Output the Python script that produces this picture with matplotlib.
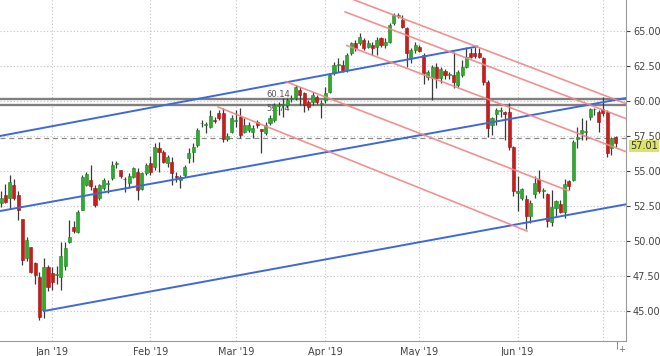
import matplotlib
matplotlib.use("Agg")
import matplotlib.pyplot as plt
import matplotlib.transforms as mtransforms
from matplotlib.ticker import FormatStrFormatter, MultipleLocator
import numpy as np
import pandas as pd

# daily candles, Dec 2018 - Jul 2019
opens = [52.7, 53.3, 53.05, 54.0, 53.3, 51.55, 48.8, 49.55, 48.4, 47.45,
         45.07, 48.17, 47.7, 47.55, 47.45, 48.2, 49.9, 51.0, 50.67, 52.2,
         54.0, 54.36, 53.76, 53.05, 53.8, 54.1, 54.5, 55.5, 55.07, 54.45,
         54.12, 54.6, 54.95, 53.69, 54.83, 55.6, 55.31, 56.62, 56.38, 55.55,
         55.67, 54.6, 54.36, 54.71, 55.9, 56.38, 56.86, 58.4, 58.3, 58.17,
         58.6, 59.12, 59.12, 57.26, 57.8, 58.6, 58.88, 57.8, 57.93, 57.8,
         58.52, 57.98, 57.69, 58.4, 58.64, 59.64, 59.7, 59.71, 60.17, 60.19,
         60.79, 60.55, 59.95, 59.95, 60.3, 59.8, 60.07, 60.67, 61.98, 62.55,
         62.57, 62.21, 63.4, 64.12, 64.12, 64.36, 63.88, 64.0, 63.88, 64.48,
         64.0, 64.24, 65.55, 66.1, 65.79, 65.19, 63.05, 63.64, 63.88, 63.3,
         61.74, 61.62, 62.45, 61.62, 62.15, 61.85, 61.86, 61.14, 61.86, 62.45,
         63.4, 63.4, 63.4, 63.05, 61.38, 58.29, 59.07, 59.3, 59.24, 59.24,
         56.74, 53.45, 53.1, 52.98, 51.79, 53.33, 54.4, 53.6, 53.33, 51.35,
         52.38, 52.62, 52.1, 54.29, 54.36, 57.26, 57.69, 57.8, 58.88, 59.4,
         59.24, 59.4, 59.24, 56.62, 57.43]
highs = [53.6, 54.1, 54.7, 54.4, 53.6, 51.6, 50.3, 49.6, 48.5, 47.8,
         48.8, 48.3, 48.17, 48.2, 49.95, 49.95, 51.5, 51.4, 52.2, 54.7,
         54.95, 55.4, 54.0, 54.1, 54.5, 54.36, 55.7, 55.7, 55.1, 54.6,
         54.83, 55.3, 55.2, 54.95, 55.55, 56.1, 56.98, 57.1, 56.5, 56.14,
         56.02, 54.95, 54.7, 55.43, 56.62, 56.98, 58.05, 58.64, 58.5, 59.36,
         58.88, 59.36, 59.48, 57.69, 59.0, 59.36, 59.5, 58.76, 58.52, 58.29,
         58.64, 58.0, 58.52, 59.0, 59.83, 59.95, 60.19, 60.19, 60.43, 61.14,
         61.0, 60.67, 60.07, 60.65, 60.4, 60.07, 61.02, 61.98, 62.81, 63.05,
         62.93, 63.4, 64.24, 64.36, 64.83, 64.48, 64.36, 64.24, 64.6, 64.6,
         64.48, 65.55, 66.26, 66.26, 66.14, 65.31, 63.76, 64.24, 64.0, 63.4,
         62.2, 62.57, 62.7, 62.4, 62.3, 62.1, 63.5, 62.2, 62.93, 63.88,
         63.76, 63.88, 63.76, 63.17, 61.5, 58.88, 59.48, 59.6, 59.3, 59.83,
         56.8, 54.64, 53.8, 53.3, 52.9, 54.64, 55.07, 53.76, 53.45, 53.64,
         52.95, 52.9, 54.45, 54.36, 57.2, 58.17, 58.76, 58.64, 59.48, 59.5,
         59.36, 60.3, 59.36, 57.45, 57.52]
lows = [52.4, 52.7, 52.3, 52.9, 51.5, 48.3, 48.6, 47.7, 46.9, 44.36,
        44.5, 46.4, 46.5, 46.9, 46.5, 47.9, 49.85, 50.55, 50.55, 52.2,
        53.9, 53.64, 52.45, 52.9, 53.65, 53.4, 54.36, 55.2, 54.5, 53.5,
        53.76, 54.5, 52.93, 53.64, 54.7, 54.7, 55.07, 54.95, 55.55, 55.31,
        54.0, 54.24, 53.76, 54.6, 55.55, 55.67, 56.74, 58.17, 57.7, 58.05,
        58.4, 58.64, 57.1, 57.17, 57.69, 58.17, 57.33, 57.69, 57.8, 57.33,
        58.05, 56.26, 57.57, 58.29, 58.52, 59.0, 58.88, 59.48, 59.95, 60.07,
        59.71, 59.24, 59.36, 59.71, 59.8, 58.8, 59.83, 60.55, 61.86, 62.09,
        62.1, 62.1, 63.3, 63.6, 64.0, 63.64, 63.76, 63.29, 63.3, 63.88,
        63.76, 64.12, 65.43, 65.9, 65.19, 62.45, 62.7, 63.4, 63.5, 61.2,
        61.5, 60.1, 60.9, 61.26, 61.6, 61.6, 60.9, 61.0, 61.74, 62.33,
        63.05, 63.05, 63.05, 61.14, 57.45, 57.57, 58.29, 58.88, 57.2, 56.5,
        53.2, 52.14, 52.9, 50.83, 51.3, 53.1, 53.45, 53.1, 51.0, 51.1,
        51.8, 52.0, 51.67, 53.64, 54.3, 56.62, 57.2, 57.2, 58.64, 59.0,
        57.8, 58.9, 56.02, 56.14, 56.74]
closes = [53.1, 52.8, 54.24, 53.05, 52.2, 48.64, 50.07, 47.8, 47.6, 44.6,
          48.17, 46.74, 47.1, 47.6, 48.9, 49.5, 50.3, 50.74, 52.1, 54.6,
          54.8, 53.9, 52.57, 54.0, 54.36, 54.15, 55.43, 55.6, 54.64, 54.4,
          54.64, 55.19, 53.64, 54.83, 55.43, 54.95, 56.74, 56.38, 55.67, 56.02,
          54.83, 54.55, 54.6, 55.31, 56.26, 56.74, 57.93, 58.45, 58.33, 58.93,
          58.55, 58.76, 57.26, 57.5, 58.76, 58.65, 57.57, 58.29, 58.29, 58.05,
          58.29, 57.86, 58.29, 58.76, 59.71, 59.66, 59.72, 60.07, 60.2, 61.02,
          60.43, 59.71, 59.6, 60.4, 59.9, 59.85, 60.55, 61.86, 62.57, 62.6,
          62.21, 63.28, 64.12, 63.76, 64.6, 63.76, 64.12, 63.76, 64.36, 64.0,
          64.24, 65.43, 66.14, 66.15, 65.31, 63.4, 63.64, 64.0, 63.6, 62.0,
          62.1, 62.45, 61.62, 62.25, 61.86, 61.9, 61.38, 62.1, 62.45, 63.17,
          63.17, 63.2, 63.17, 61.38, 58.05, 58.76, 59.36, 59.33, 59.07, 56.74,
          53.6, 53.55, 53.69, 51.79, 52.74, 54.17, 53.57, 53.6, 51.45, 52.4,
          52.84, 52.1, 54.05, 53.95, 57.1, 57.45, 57.93, 57.82, 59.4, 59.45,
          58.52, 59.17, 56.26, 57.33, 57.02]

dates = pd.bdate_range("2018-12-14", periods=len(closes))

# drawn studies: (candle index, price) end points
blue_lines = [[(-0.25, 52.14), (146.4, 60.21)],
              [(-0.25, 57.50), (111.5, 63.89)],
              [(10.0, 45.00), (146.4, 52.62)]]
red_lines = [[(82.0, 67.30), (146.4, 59.81)],
             [(80.6, 66.36), (146.4, 58.74)],
             [(81.0, 63.96), (146.4, 56.38)],
             [(66.7, 61.38), (132.8, 53.60)],
             [(50.8, 59.57), (123.2, 50.71)]]
levels = [60.14, 59.74]
last_dash = 57.38
last_price = 57.01

fig = plt.figure(figsize=(6.6, 3.56), dpi=100)
ax = fig.add_axes([0, 15 / 356, 626 / 660, 341 / 356])

x = np.arange(len(closes))
o = np.array(opens)
c = np.array(closes)
up = c >= o
body = np.maximum(np.abs(c - o), 0.06)
bottom = np.minimum(o, c)

ax.vlines(x, lows, highs, color="#3a3a3a", lw=0.9, zorder=3)
ax.bar(x[up], body[up], bottom=bottom[up], width=0.72, color="#2eac2e",
       edgecolor="#1d861d", lw=0.4, zorder=4)
ax.bar(x[~up], body[~up], bottom=bottom[~up], width=0.72, color="#cc1b1b",
       edgecolor="#a01010", lw=0.4, zorder=4)

# horizontal levels, labels stacked on the left of the Mar/Apr candles
for lv in levels:
    ax.axhline(lv, color="#808080", lw=1.7, zorder=2)
ax.text(62.2, 60.27, "60.14", fontsize=6, color="#555555", zorder=2.5)
ax.text(62.2, 59.78, "59.74", fontsize=6, color="#555555", zorder=2.5, va="top")

ax.axhline(last_dash, color="#8a8a8a", lw=0.9, ls=(0, (4, 3)), zorder=2)

for (x0, y0), (x1, y1) in blue_lines:
    ax.plot([x0, x1], [y0, y1], color="#3f69d6", lw=1.4, zorder=5)
for (x0, y0), (x1, y1) in red_lines:
    ax.plot([x0, x1], [y0, y1], color="#f08585", lw=1.2, alpha=0.9, zorder=5)

ax.set_xlim(-0.25, 146.4)
ax.set_ylim(42.86, 67.21)

# month ticks (no label for the month that starts at the right edge)
month_idx = [i for i in range(1, len(dates)) if dates[i].month != dates[i - 1].month]
month_lab = [dates[i].strftime("%b '%y") if i < len(dates) - 8 else "" for i in month_idx]
ax.set_xticks(month_idx)
ax.set_xticklabels(month_lab)
ax.set_xticks([len(dates) - 0.6], minor=True)
ax.tick_params(axis="x", which="major", length=0, labelsize=7, colors="#444444", pad=4)
ax.tick_params(axis="x", which="minor", length=6, color="#777777")

ax.yaxis.tick_right()
ax.yaxis.set_major_locator(MultipleLocator(2.5))
ax.yaxis.set_major_formatter(FormatStrFormatter("%.2f"))
ax.tick_params(axis="y", length=3, labelsize=7, colors="#444444", pad=2)

ax.grid(True, color="#c4c4c4", lw=0.8, ls=(0, (1, 2)))
ax.set_axisbelow(True)
for side in ["left", "top"]:
    ax.spines[side].set_visible(False)
for side in ["right", "bottom"]:
    ax.spines[side].set_color("#9a9a9a")

trans = mtransforms.blended_transform_factory(ax.transAxes, ax.transData)
ax.text(1.006, last_price - 0.22, f"{last_price:.2f}", transform=trans, fontsize=7,
        color="#333333", va="center", ha="left", zorder=10, clip_on=False,
        bbox=dict(boxstyle="square,pad=0.12", fc="#dbe36b", ec="none"))

fig.text(621.5 / 660, 1 - 349.5 / 356, "+", fontsize=6, color="#666666",
         ha="center", va="center")

fig.savefig("out.png", dpi=100)
